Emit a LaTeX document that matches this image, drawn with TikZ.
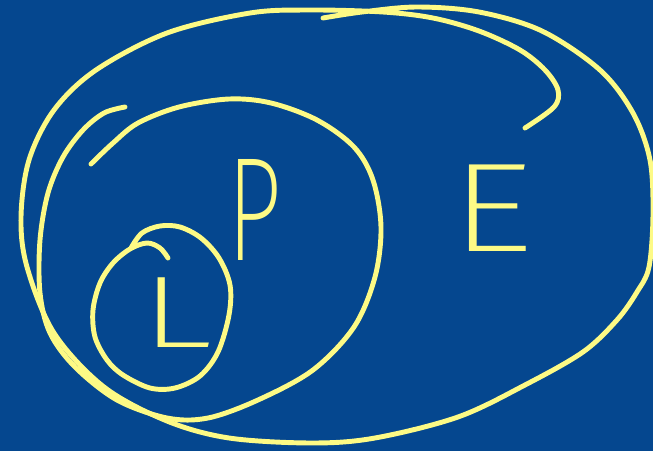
\documentclass[tikz,border=0pt]{standalone}
\usepackage{fontspec}
\usepackage{graphicx}
\newfontfamily\penfont{Fira Sans ExtraLight}
\definecolor{boardblue}{HTML}{05478F}
\definecolor{chalkyellow}{HTML}{FDFA85}
\usepackage{tikz}
\tikzset{
  penstroke/.style={
    draw=chalkyellow, line width=1.4pt,
    line cap=round, line join=round,
  },
  penletter/.style={
    text=chalkyellow, inner sep=0pt,
  },
}

\begin{document}
\begin{tikzpicture}[x=0.01cm, y=-0.01cm]

  % Board
  \fill[boardblue] (0,0) rectangle (653,451);
  \useasboundingbox (0,0) rectangle (653,451);

  % Outer set E (one stroke, loops back in at the top)
  \draw[penstroke] plot[smooth, tension=0.55] coordinates {
    (323,18) (362,12) (417,7) (479,12) (542,31) (600,70) (633,113)
    (650,160) (653,215) (649,267) (637,292) (617,320) (583,352)
    (525,385) (458,417) (375,438) (312,443) (229,438) (167,421)
    (104,387) (54,333) (27,267) (21,217) (29,160) (54,110) (96,70)
    (167,33) (250,13) (310,10) (383,12) (433,18) (479,31) (520,50)
    (545,70) (558,90) (554,107) (525,128)};

  % Middle set P
  \draw[penstroke] plot[smooth, tension=0.55] coordinates {
    (125,107) (104,113) (83,130) (63,157) (48,193) (40,240) (40,293)
    (50,333) (75,367) (117,400) (167,418) (208,418) (258,400) (313,370)
    (354,327) (375,277) (381,227) (373,180) (354,147) (317,120)
    (271,103) (229,99) (179,107) (138,123) (113,143) (91,164)};

  % Inner set L
  \draw[penstroke] plot[smooth, tension=0.55] coordinates {
    (168,258) (160,248) (147,243) (130,249) (113,263) (100,283) (93,310)
    (95,337) (107,360) (123,375) (150,388) (175,388) (200,376) (218,352)
    (229,315) (230,285) (219,258) (201,238) (180,227) (160,226)
    (142,233) (131,248)};

  % Labels
  \node[penletter, font=\penfont\fontsize{29}{29}\selectfont] (lset) at (176,313) {\scalebox{1.5}[1]{L}};
  \node[penletter, font=\penfont\fontsize{42}{42}\selectfont] (pset) at (255,210) {\scalebox{0.65}[1]{P}};
  \node[penletter, font=\penfont\fontsize{36}{36}\selectfont] (eset) at (492,208) {\scalebox{1.3}[1]{E}};

\end{tikzpicture}
\end{document}
